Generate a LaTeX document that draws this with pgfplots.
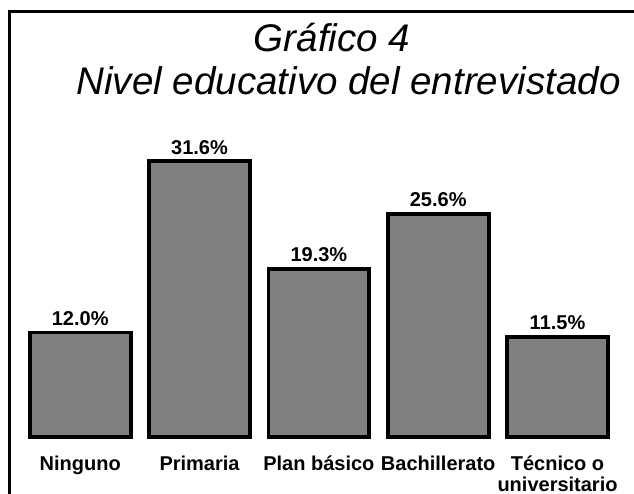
\documentclass[border=0pt]{standalone}
\usepackage{pgfplots}
\pgfplotsset{compat=1.18}
\usepackage{fontspec}
\setmainfont{Liberation Sans}
\definecolor{barfill}{RGB}{128,128,128}
\begin{document}
\begin{tikzpicture}
\path[use as bounding box] (0pt,0pt) rectangle (475.5pt,369.75pt);
\draw[line width=1.9pt] (7.1pt,-10pt) -- (7.1pt,361.1pt) -- (490pt,361.1pt);
\node[anchor=base,font=\itshape\fontsize{28.9}{34}\selectfont] at (249pt,330.75pt) {Gráfico 4};
\node[anchor=base,font=\itshape\fontsize{28.9}{34}\selectfont] at (261.4pt,298.5pt) {Nivel educativo del entrevistado};
\begin{axis}[
  at={(15.4pt,41.8pt)}, anchor=south west,
  scale only axis, width=447.5pt, height=229.2pt,
  xmin=-0.5, xmax=4.5, ymin=0, ymax=35,
  axis x line=bottom, axis y line=none,
  x axis line style={draw=none,-},
  xtick={0,1,2,3,4},
  xticklabels={{\rule{0pt}{12pt}Ninguno},{\rule{0pt}{12pt}Primaria},{\rule{0pt}{12pt}Plan básico},{\rule{0pt}{12pt}Bachillerato},{\rule{0pt}{12pt}Técnico o\\universitario}},
  xtick style={draw=none},
  xticklabel style={font=\bfseries\fontsize{15}{15.6}\selectfont, align=center, anchor=north, inner sep=0pt, yshift=-8.4pt},
  ytick=\empty,
  clip=false,
  /pgf/number format/assume math mode=true,
  ybar, bar width=0.846,
  nodes near coords={\pgfmathprintnumber[fixed,fixed zerofill,precision=1]{\pgfplotspointmeta}\%},
  every node near coord/.append style={font=\bfseries\fontsize{15}{18}\selectfont, anchor=base, yshift=5.5pt, text=black},
]
\addplot[draw=black, line width=2.8pt, fill=barfill] coordinates {(0,12.0) (1,31.6) (2,19.3) (3,25.6) (4,11.5)};
\end{axis}
\end{tikzpicture}
\end{document}
